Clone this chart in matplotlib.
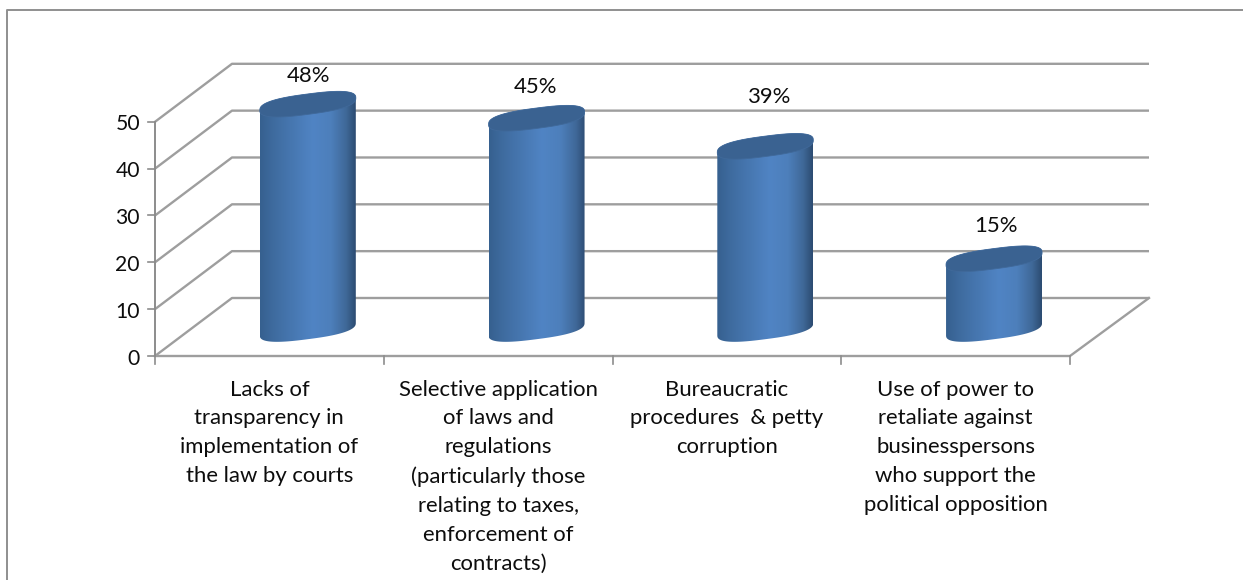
import numpy as np
import matplotlib
matplotlib.use("Agg")
import matplotlib.pyplot as plt
from matplotlib.colors import LinearSegmentedColormap
from matplotlib.patches import Polygon

plt.rcParams['font.family'] = ['Lato', 'DejaVu Sans']

categories = [
    "Lacks of\ntransparency in\nimplementation of\nthe law by courts",
    "Selective application\nof laws and\nregulations\n(particularly those\nrelating to taxes,\nenforcement of\ncontracts)",
    "Bureaucratic\nprocedures  & petty\ncorruption",
    "Use of power to\nretaliate against\nbusinesspersons\nwho support the\npolitical opposition",
]
values = [48, 45, 39, 15]
value_labels = ["48%", "45%", "39%", "15%"]
y_ticks = [0, 10, 20, 30, 40, 50]

# Hand placement of the value labels relative to each cap, in pixels
label_shift = [1, -1, 4, 2]
label_lift = [28, 31, 49, 33]

W, H = 1243, 580
GRID = "#9e9e9e"
AXIS = "#8c8c8c"
TEXT = "#0d0d0d"
FS = 15.9

fig = plt.figure(figsize=(W / 100, H / 100), dpi=100, facecolor="white")

# Front plane of the 3D box: x in category slots, y in chart units.
# The y range runs past 50 so tall cylinders and their caps are not cropped.
left, right, bottom = 155, 1070, 356
px_y = 4.684             # pixels per chart unit
y_max = 70
ax = fig.add_axes([left / W, 1 - bottom / H, (right - left) / W, y_max * px_y / H])
ax.axis("off")

n = len(values)
px_x = (right - left) / n    # pixels per category
depth_x = 77 / px_x          # box depth, in x units
depth_y = 58 / px_y          # box depth, in y units
wall_extra = 2 / px_x        # back wall runs slightly past the floor edge

# Back wall and side wall gridlines
for t in y_ticks:
    ax.plot([0, depth_x, n + depth_x + wall_extra], [t, t + depth_y, t + depth_y],
            color=GRID, lw=1.7, clip_on=False, zorder=1, solid_capstyle="butt")
    ax.plot([-7 / px_x, 0], [t, t], color=AXIS, lw=1.2, clip_on=False, zorder=2)
    ax.text(-15 / px_x, t - 0.55, str(t), ha="right", va="center", fontsize=15.2,
            color=TEXT, clip_on=False)

# Floor and axis lines
ax.plot([0, n, n + depth_x + wall_extra], [0, 0, depth_y],
        color=GRID, lw=1.7, clip_on=False, zorder=1)
ax.plot([0, 0], [0, 50], color=AXIS, lw=1.4, clip_on=False, zorder=2)
for i in range(n + 1):
    ax.plot([i, i], [0, -8 / px_y], color=AXIS, lw=1.2, clip_on=False, zorder=2)

# Cylinder shading, dark at both edges and lightest right of centre
shade = LinearSegmentedColormap.from_list("cylinder", [
    (0.00, "#36608f"), (0.15, "#3f6ca0"), (0.55, "#5084c4"),
    (0.74, "#4d7fbb"), (0.90, "#3f6898"), (1.00, "#2c4b71"),
])
gradient = np.linspace(0, 1, 256).reshape(1, -1)

half_w = 48 / px_x     # cylinder radius along x
skew = 6.2 / px_y      # rise of the ellipse from centre to right end
minor = 10.2 / px_y    # ellipse half-height
base = 27 / px_y       # height of the base centre above the floor line
slot = 0.668           # cylinder centre inside its category slot
ROUND = 0.76           # below 1 the ellipse bulges slightly, as the caps do


def rim(t):
    """Unit rim of the slanted cylinder: x and y offsets for angles t."""
    c = np.sign(np.cos(t)) * np.abs(np.cos(t)) ** ROUND
    s = np.sign(np.sin(t)) * np.abs(np.sin(t)) ** ROUND
    return c, skew * c + minor * s


theta = np.linspace(0, 2 * np.pi, 300)

for i, (v, lab) in enumerate(zip(values, value_labels)):
    cx = i + slot
    y0, y1 = base, base + v

    # Body outline: lower half of the base rim, upper half of the top one
    cl, yl = rim(np.linspace(np.pi, 2 * np.pi, 120))
    cu, yu = rim(np.linspace(0, np.pi, 120))
    xs = np.r_[cx + half_w * cl, cx + half_w * cu]
    ys = np.r_[y0 + yl, y1 + yu]
    outline = Polygon(np.c_[xs, ys], closed=True, transform=ax.transData,
                      facecolor="none", edgecolor="none")
    ax.add_patch(outline)

    im = ax.imshow(gradient, cmap=shade, aspect="auto", zorder=3,
                   extent=[cx - half_w, cx + half_w, y0 - 2 * minor, y1 + 2 * minor])
    im.set_clip_path(outline)

    # Cap
    cc, yc = rim(theta)
    ax.add_patch(Polygon(np.c_[cx + half_w * cc, y1 + yc], closed=True,
                         facecolor="#3a6291", edgecolor="#40699a",
                         lw=0.6, zorder=4, clip_on=False))

    ax.text(cx + label_shift[i] / px_x, y1 + label_lift[i] / px_y, lab,
            ha="center", va="center", fontsize=FS, color=TEXT, clip_on=False, zorder=5)

    ax.text(i + 0.5, -23.5 / px_y, categories[i], ha="center", va="top", fontsize=FS,
            color=TEXT, linespacing=1.56, clip_on=False)

ax.set_xlim(0, n)
ax.set_ylim(0, y_max)

# Chart border: left and top edges only
fig.add_artist(plt.Line2D([7 / W, 7 / W, 1], [0, 1 - 10 / H, 1 - 10 / H],
                          transform=fig.transFigure, color="#8f8f8f", lw=1.4))

fig.savefig("out.png", dpi=100, facecolor="white")
